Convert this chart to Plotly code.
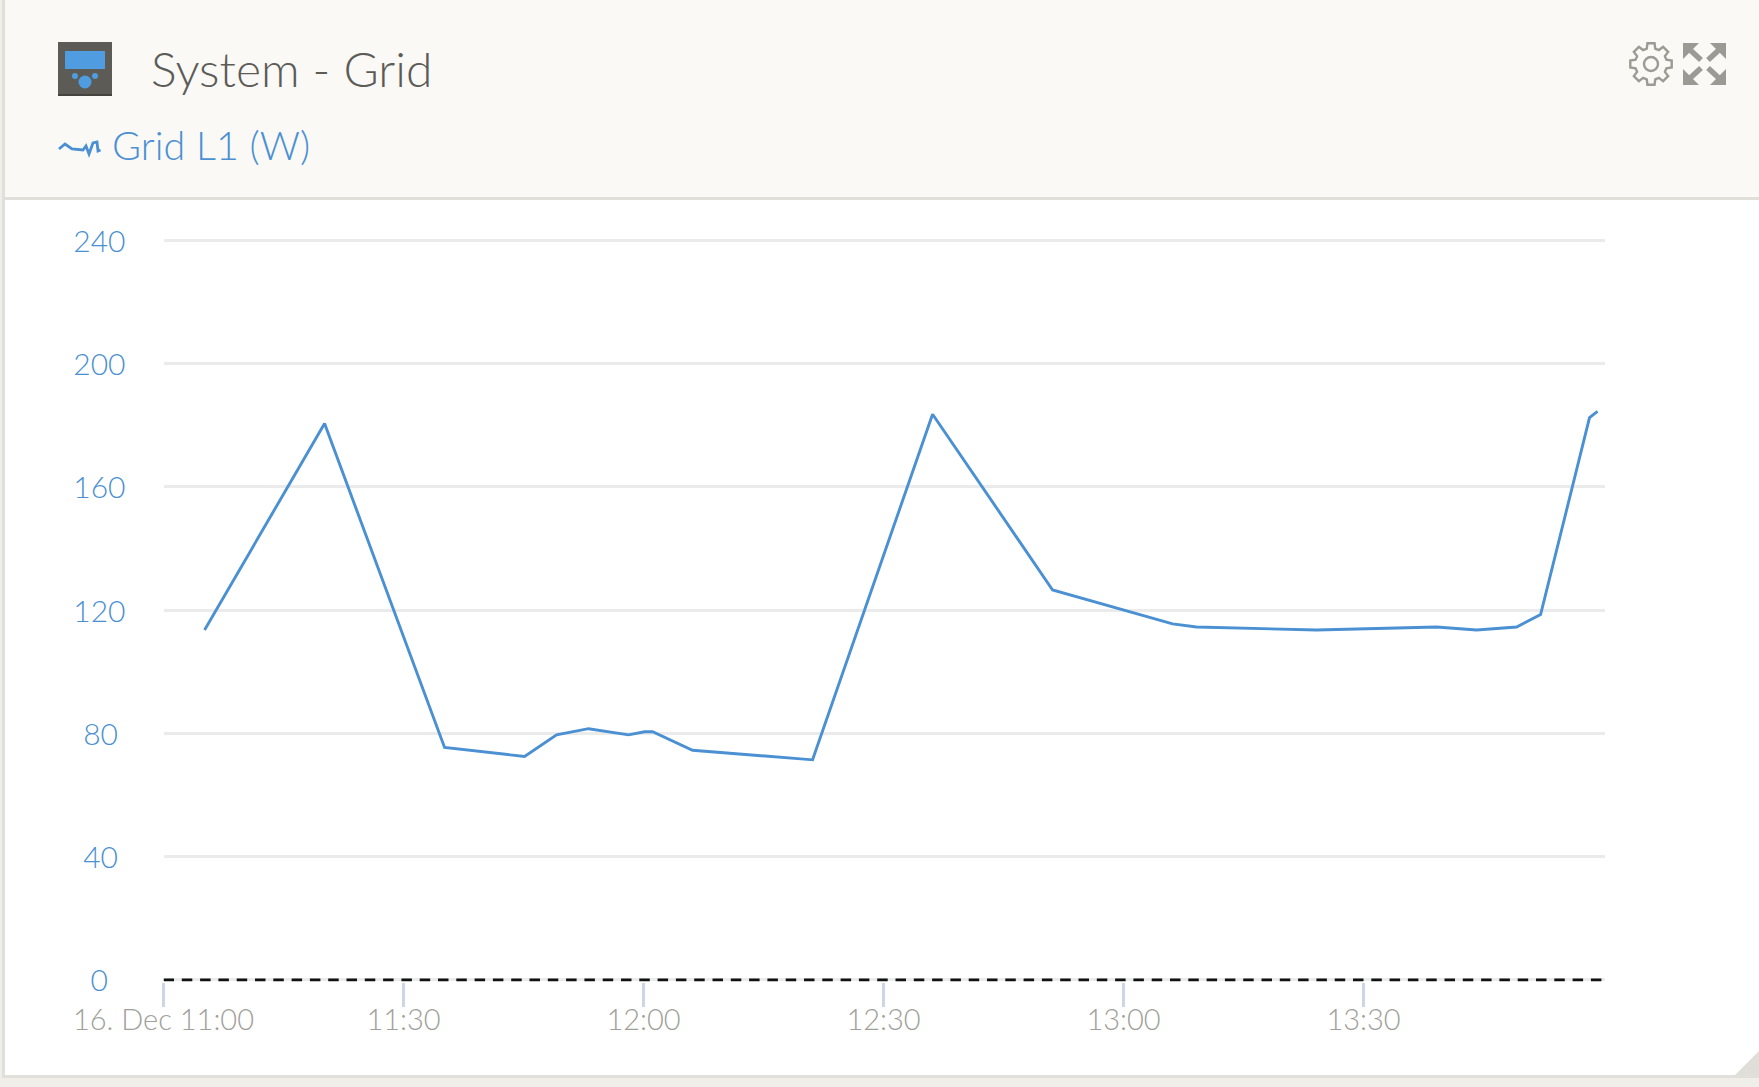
import math
import plotly.graph_objects as go

W, H = 1759, 1087
FONT = "Lato"
BLUE = "#4a90d2"
GREY = "#a0a09a"
DARK = "#5c5b56"
ICON = "#9b9a94"
BORDER = "#e0dfda"

# Data
times = ["11:05:08", "11:20:08", "11:35:08", "11:45:08", "11:49:08", "11:53:08", "11:58:08", "12:00:08",
         "12:01:08", "12:06:08", "12:21:08", "12:36:08", "12:51:08", "13:06:08", "13:09:08", "13:24:08",
         "13:39:08", "13:44:08", "13:49:08", "13:52:08", "13:58:15", "13:59:15"]
grid_l1 = [113.5, 180.5, 75.4, 72.5, 79.5, 81.5, 79.5, 80.5, 80.5, 74.5,
           71.4, 183.5, 126.5, 115.5, 114.5, 113.5, 114.5, 113.5, 114.5, 118.5,
           182.4, 184.4]
x_ticks = ["11:00", "11:30", "12:00", "12:30", "13:00", "13:30"]
x_labels = ["16. Dec 11:00", "11:30", "12:00", "12:30", "13:00", "13:30"]
y_ticks = [0, 40, 80, 120, 160, 200, 240]
y_labels = ["0", "40", "80", "120", "160", "200", "240"]
DAY = "2019-12-16 "

def px(x):
    return x / W

def py(y):
    return 1 - y / H

def path(points, close=False):
    s = "M" + " L".join(f"{px(a):.5f},{py(b):.5f}" for a, b in points)
    return s + (" Z" if close else "")

def rect(x0, y0, x1, y1, color, layer="below"):
    return dict(type="rect", xref="paper", yref="paper", x0=px(x0), x1=px(x1), y0=py(y0), y1=py(y1),
                fillcolor=color, line_width=0, layer=layer)

def circle(cx, cy, r, fill, line=None, lw=0):
    return dict(type="circle", xref="paper", yref="paper", x0=px(cx - r), x1=px(cx + r),
                y0=py(cy + r), y1=py(cy - r), fillcolor=fill,
                line=dict(color=line or fill, width=lw))

def poly(points, color):
    return dict(type="path", xref="paper", yref="paper", path=path(points, True),
                fillcolor=color, line_width=0)

def stroke(points, color, width):
    return dict(type="path", xref="paper", yref="paper", path=path(points),
                line=dict(color=color, width=width))

# Centre the y labels on a common axis by padding on the right
pad = {1: "\u2004\u2005", 2: "\u2005", 3: ""}
y_text = [t + pad[len(t)] for t in y_labels]

fig = go.Figure()
fig.add_trace(go.Scatter(x=[DAY + t for t in times], y=grid_l1, mode="lines",
                         line=dict(color=BLUE, width=2.9), name="Grid L1 (W)", hoverinfo="skip"))

shapes = [
    rect(0, 0, W, H, "#efeee9"),
    rect(2, 0, 5, 1077, BORDER),
    rect(5, 0, W, 197, "#faf9f6"),
    rect(5, 197, W, 200, BORDER),
    rect(5, 200, W, 1075, "#ffffff"),
    rect(2, 1075, W, 1078, BORDER),
    poly([(1735, 1075), (W, 1051), (W, 1075)], "#dfded9"),
    # device icon
    rect(58, 42, 112, 96, "#5c5b56", "above"),
    rect(58, 94, 112, 96, "#45443f", "above"),
    rect(65, 51, 105, 69, "#4f9de0", "above"),
    circle(85, 82, 6.5, "#4f9de0"),
    circle(75, 76, 3, "#4f9de0"),
    circle(95, 76, 3, "#4f9de0"),
    # series icon
    stroke([(59, 149), (65, 144), (72, 149), (83, 150), (86, 146), (89, 154), (93, 143),
            (97, 142), (98, 151), (100.5, 150)], BLUE, 2.8),
    # expand icon
    poly([(1683, 43), (1699, 43), (1683, 59)], ICON),
    poly([(1726, 43), (1710, 43), (1726, 59)], ICON),
    poly([(1683, 85), (1699, 85), (1683, 69)], ICON),
    poly([(1726, 85), (1710, 85), (1726, 69)], ICON),
    stroke([(1688, 48), (1701, 60)], ICON, 5.5),
    stroke([(1721, 48), (1708, 60)], ICON, 5.5),
    stroke([(1688, 80), (1701, 68)], ICON, 5.5),
    stroke([(1721, 80), (1708, 68)], ICON, 5.5),
    # gear hole
    circle(1651, 64, 7, "rgba(0,0,0,0)", ICON, 2.4),
    # zero line
    dict(type="line", xref="x", yref="y", x0=DAY + "11:00", x1=DAY + "14:00:11", y0=0, y1=0,
         line=dict(color="#111111", width=3, dash="10.5px,7.8px"), layer="above"),
]

# gear outline
gear = []
teeth = 8
for i in range(teeth):
    a = 2 * math.pi * i / teeth
    for off, r in [(-0.27, 16), (-0.17, 21), (0.17, 21), (0.27, 16)]:
        gear.append((1651 + r * math.sin(a + off), 64 - r * math.cos(a + off)))
shapes.append(dict(type="path", xref="paper", yref="paper", path=path(gear, True),
                   line=dict(color=ICON, width=2.4), fillcolor="rgba(0,0,0,0)"))

annotations = [
    dict(text="System - Grid", xref="paper", yref="paper", x=px(149), y=py(68), xanchor="left",
         yanchor="middle", showarrow=False, font=dict(family=FONT, size=48, color=DARK, weight=300)),
    dict(text="Grid L1 (W)", xref="paper", yref="paper", x=px(110), y=py(144), xanchor="left",
         yanchor="middle", showarrow=False, font=dict(family=FONT, size=39.5, color=BLUE, weight=300)),
]

fig.update_layout(
    width=W, height=H, margin=dict(l=0, r=0, t=0, b=0),
    paper_bgcolor="#ffffff", plot_bgcolor="rgba(0,0,0,0)", showlegend=False,
    shapes=shapes, annotations=annotations,
    font=dict(family=FONT),
    xaxis=dict(type="date", domain=[px(163.5), px(1605)], automargin=False,
               range=[DAY + "11:00", DAY + "14:00:11"],
               tickmode="array", tickvals=[DAY + t for t in x_ticks], ticktext=x_labels,
               ticks="outside", ticklen=24, tickwidth=2.6, tickcolor="#ccd6eb",
               tickfont=dict(family=FONT, size=29, color=GREY, weight=300),
               ticklabelstandoff=-11, showgrid=False, showline=False, zeroline=False),
    yaxis=dict(domain=[py(981.5), py(238.5)], range=[-0.5, 240.5], automargin=False,
               tickmode="array", tickvals=y_ticks, ticktext=y_text,
               ticks="", showgrid=True, gridcolor="#ebebeb", gridwidth=3,
               tickfont=dict(family=FONT, size=30, color=BLUE, weight=300),
               ticklabelstandoff=37, ticklabelshift=1, showline=False, zeroline=False),
)

fig.write_html("out.html", config=dict(displayModeBar=False),
               post_script="document.body.style.margin='0';document.documentElement.style.overflow='hidden';")
